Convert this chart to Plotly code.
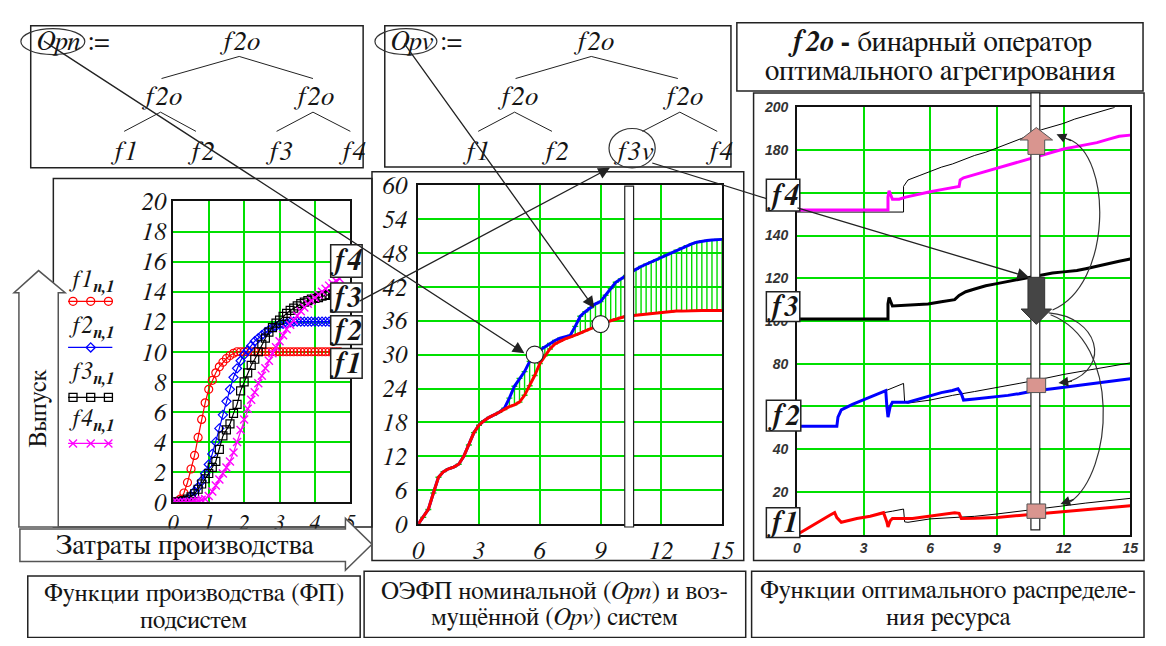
import plotly.graph_objects as go

# page geometry: the browser keeps its default 8px body margin, so the figure is
# sized to fill the 1166x646 window exactly and decorations are placed in window pixels.
WIN_W, WIN_H = 1166, 646
OFF = 8
FW, FH = WIN_W - 2 * OFF, WIN_H - 2 * OFF
SERIF = "FreeSerif, Liberation Serif, serif"
SANS = "Liberation Sans, Arial, DejaVu Sans, sans-serif"
GRID = "#00e000"
INK = "#151515"

# ---------------- data: production functions of subsystems (left) ----------------
fp_x = [0.0, 0.1, 0.2, 0.3, 0.4, 0.5, 0.6, 0.7, 0.8, 0.9,
        1.0, 1.1, 1.2, 1.3, 1.4, 1.5, 1.6, 1.7, 1.8, 1.9,
        2.0, 2.1, 2.2, 2.3, 2.4, 2.5, 2.6, 2.7, 2.8, 2.9,
        3.0, 3.1, 3.2, 3.3, 3.4, 3.5, 3.6, 3.7, 3.8, 3.9,
        4.0, 4.1, 4.2, 4.3, 4.4, 4.5, 4.6, 4.7]
f1_n = [0, 0.05, 0.2, 0.6, 1.3, 2.2, 3.1, 4.3, 5.5, 6.6,
        7.5, 8.1, 8.6, 9.0, 9.3, 9.55, 9.75, 9.9, 10.0, 10.0,
        10.0, 10.0, 10.0, 10.0, 10.0, 10.0, 10.0, 10.0, 10.0, 10.0,
        10.0, 10.0, 10.0, 10.0, 10.0, 10.0, 10.0, 10.0, 10.0, 10.0,
        10.0, 10.0, 10.0, 10.0, 10.0, 10.0, 10.0, 10.0]
f2_n = [0, 0, 0.05, 0.1, 0.2, 0.4, 0.7, 1.0, 1.4, 1.9,
        2.5, 3.2, 4.0, 4.9, 5.8, 6.7, 7.5, 8.3, 8.9, 9.4,
        9.8, 10.1, 10.4, 10.7, 10.9, 11.1, 11.3, 11.45, 11.6, 11.7,
        11.8, 11.85, 11.9, 11.95, 12.0, 12.0, 12.0, 12.0, 12.0, 12.0,
        12.0, 12.0, 12.0, 12.0, 12.0, 12.0, 12.0, 12.0]
f3_n = [0, 0, 0.05, 0.1, 0.2, 0.35, 0.55, 0.85, 1.2, 1.55,
        1.9, 2.3, 2.7, 3.5, 4.4, 4.8, 5.2, 5.9, 6.5, 7.4,
        8.0, 8.6, 9.1, 9.5, 10.0, 10.5, 10.9, 11.3, 11.6, 11.9,
        12.1, 12.35, 12.55, 12.75, 12.9, 13.05, 13.2, 13.3, 13.4, 13.5,
        13.55, 13.6, 13.7, 13.75, 13.8, 13.85, 13.9, 13.95]
f4_n = [0, 0, 0, 0, 0, 0.02, 0.05, 0.1, 0.15, 0.2,
        0.4, 0.7, 1.1, 1.5, 1.9, 2.3, 2.7, 3.3, 4.0, 4.8,
        5.5, 6.2, 6.8, 7.3, 7.9, 8.4, 8.9, 9.4, 9.9, 10.3,
        10.7, 11.1, 11.5, 11.8, 12.1, 12.4, 12.7, 12.95, 13.2, 13.4,
        13.6, 13.8, 14.0, 14.2, 14.4, 14.55, 14.7, 14.85]

# ---------------- data: OEFP nominal (Opn) and perturbed (Opv) (middle) ----------------
oe_x = [0, 0.25, 0.5, 0.75, 1, 1.25, 1.5, 1.75, 2, 2.25,
        2.5, 2.75, 3, 3.25, 3.5, 3.75, 4, 4.25, 4.5, 4.75,
        5, 5.25, 5.5, 5.75, 6, 6.25, 6.5, 6.75, 7, 7.25,
        7.5, 7.75, 8, 8.25, 8.5, 8.75, 9, 9.25, 9.5, 9.75,
        10, 10.25, 10.5, 10.75, 11, 11.25, 11.5, 11.75, 12, 12.25,
        12.5, 12.75, 13, 13.25, 13.5, 13.75, 14, 14.25, 14.5, 14.75, 15]
opn = [0, 1.2, 2.6, 5.5, 8.3, 9.3, 9.8, 10.1, 10.6, 12.0,
       14.0, 16.2, 17.5, 18.3, 18.9, 19.3, 19.8, 20.3, 20.8, 21.1,
       21.6, 22.8, 24.5, 26.3, 28.4, 29.8, 31.0, 31.9, 32.4, 32.8,
       33.1, 33.4, 33.8, 34.2, 34.6, 35.0, 35.4, 35.7, 36.0, 36.3,
       36.6, 36.8, 36.9, 37.0, 37.1, 37.2, 37.3, 37.4, 37.5, 37.55,
       37.6, 37.7, 37.7, 37.75, 37.8, 37.8, 37.8, 37.8, 37.8, 37.8, 37.8]
opv = [0, 1.2, 2.6, 5.5, 8.3, 9.3, 9.8, 10.1, 10.6, 12.0,
       14.0, 16.2, 17.5, 18.3, 18.9, 19.3, 19.8, 20.5, 22.3, 24.4,
       25.8, 27.0, 28.8, 30.0, 30.8, 31.4, 32.0, 32.5, 32.9, 33.1,
       33.4, 35.0, 36.8, 37.6, 38.3, 39.0, 39.4, 40.5, 41.7, 42.8,
       43.4, 44.0, 44.6, 45.1, 45.6, 46.0, 46.4, 46.8, 47.3, 47.7,
       48.1, 48.5, 48.9, 49.3, 49.6, 49.9, 50.1, 50.2, 50.3, 50.4, 50.4]

# ---------------- data: optimal resource distribution functions (right) ----------------
r4_x = [0, 4.1, 4.1, 4.15, 4.3, 4.6, 4.9, 5.5, 6.0, 6.5, 7.0, 7.3, 7.35, 7.5, 8.0, 8.5,
        9.0, 9.5, 10.0, 10.5, 11.0, 11.5, 12.0, 12.5, 13.0, 13.5, 14.0, 14.5, 15]
r4_y = [152, 152, 158, 161, 157, 157, 158, 159.5, 160.5, 161.5, 162.5, 163, 166, 167, 168.5, 170,
        171.5, 173, 174.5, 176, 177.5, 179, 180.5, 181.5, 182.5, 183.5, 185, 186.5, 187]
r4n_x = [0, 4.8, 4.8, 5.0, 5.5, 6.0, 6.5, 7.0, 7.5, 8.0, 8.5, 9.0, 9.5, 10.0, 10.5,
         11.0, 11.5, 12.0, 12.5, 13.0, 13.5, 14.0, 14.3]
r4n_y = [151, 151, 163, 166, 168, 170, 172, 173.5, 175.5, 177.5, 179, 181, 183, 185, 187,
         189.5, 191, 192.5, 194.5, 196, 197.5, 199, 200]
r3_x = [0, 4.1, 4.1, 4.15, 4.3, 5.0, 5.9, 6.5, 7.1, 7.3, 7.6, 8.0, 8.5, 9.0, 9.5, 10.0,
        10.35, 11.0, 11.5, 12.0, 12.6, 13.0, 13.5, 14.0, 14.5, 15]
r3_y = [101, 101, 108, 111, 107, 107.5, 108, 109, 110, 112, 113.7, 115, 116.5, 117.5, 118.5, 119.5,
        120.4, 121.5, 122.5, 123, 123.6, 124.5, 125.8, 126.8, 128, 129]
r2_x = [0, 1.8, 1.85, 2.0, 2.5, 3.0, 3.5, 4.0, 4.05, 4.1, 4.2, 4.3, 5.0, 5.5, 6.0, 6.5, 7.0,
        7.25, 7.4, 7.5, 8.0, 8.5, 9.0, 9.5, 10.0, 10.7, 11.5, 12.0, 12.6, 13.0, 13.5, 14.0, 14.5, 15]
r2_y = [50.8, 50.8, 55, 58.4, 61, 63.2, 65.3, 67.4, 60, 55, 60, 62, 62, 63.5, 65, 66.5, 67.5,
        68.3, 66, 63, 63.5, 64, 64.4, 65.2, 66, 67.4, 68.3, 69, 69.7, 70.2, 71, 71.8, 72.5, 73]
r2n_x = [0, 1.8, 1.85, 2.0, 2.5, 3.0, 3.5, 4.0, 4.5, 4.8, 4.85, 5.0, 6.0, 7.0, 8.0, 9.0,
         10.0, 11.0, 12.0, 13.0, 14.0, 15]
r2n_y = [50.8, 50.8, 55, 58.4, 61, 63.2, 65.3, 67.4, 69.5, 70.8, 62, 61.6, 63, 65.2, 67, 68.8,
         70.8, 72.8, 75, 76.8, 78.6, 80.4]
r1_x = [0, 0.5, 1.0, 1.5, 1.7, 1.8, 2.0, 2.7, 3.3, 3.9, 4.05, 4.1, 4.2, 4.3, 5.2, 6.0, 7.1,
        7.3, 7.4, 8.0, 9.0, 10.0, 11.1, 12.0, 13.0, 14.0, 15]
r1_y = [0, 3.2, 6.3, 9.2, 10.3, 8.0, 5.8, 7.6, 8.6, 10.3, 6, 3.6, 6.5, 7.6, 7.6, 8.6, 10.3,
        10.0, 7.6, 7.7, 8.1, 9.0, 9.9, 10.8, 11.7, 12.6, 13.5]
r1n_x = [0, 0.5, 1.0, 1.5, 1.7, 1.8, 2.0, 2.7, 3.3, 3.9, 4.3, 4.8, 4.85, 5.0, 6.0, 7.0, 8.0,
         9.0, 10.3, 11.0, 12.0, 13.0, 14.0, 15]
r1n_y = [0, 3.2, 6.3, 9.2, 10.3, 8.0, 5.8, 7.6, 8.6, 10.3, 11, 12, 6, 5.8, 7.4, 8.0, 8.6,
         9.7, 11.2, 12.2, 13.5, 14.8, 16.0, 17]

left_xticks = [0, 1, 2, 3, 4, 5]
left_yticks = [0, 2, 4, 6, 8, 10, 12, 14, 16, 18, 20]
mid_xticks = [0, 3, 6, 9, 12, 15]
mid_yticks = [0, 6, 12, 18, 24, 30, 36, 42, 48, 54, 60]
right_xticks = [0, 3, 6, 9, 12, 15]
right_yticks = [0, 20, 40, 60, 80, 100, 120, 140, 160, 180, 200]
right_ytext = ["", "20", "40", "", "80", "100", "120", "140", "", "180", "200"]


def px(x):
    return (x - OFF) / FW


def py(y):
    return 1 - (y - OFF) / FH


fig = go.Figure()

# ---- left chart traces ----
fig.add_trace(go.Scatter(x=fp_x, y=f1_n, mode="lines+markers", xaxis="x", yaxis="y",
                         line=dict(color="#ff0000", width=1.2),
                         marker=dict(symbol="circle-open", size=8, color="#ff0000", line=dict(width=1.2))))
fig.add_trace(go.Scatter(x=fp_x, y=f2_n, mode="lines+markers", xaxis="x", yaxis="y",
                         line=dict(color="#0000ff", width=1.2),
                         marker=dict(symbol="diamond-open", size=7, color="#0000ff", line=dict(width=1.2))))
fig.add_trace(go.Scatter(x=fp_x, y=f3_n, mode="lines+markers", xaxis="x", yaxis="y",
                         line=dict(color="#000000", width=1.2),
                         marker=dict(symbol="square-open", size=8, color="#000000", line=dict(width=1.2))))
fig.add_trace(go.Scatter(x=fp_x, y=f4_n, mode="lines+markers", xaxis="x", yaxis="y",
                         line=dict(color="#ff00ff", width=1.2),
                         marker=dict(symbol="x-thin", size=8, color="#ff00ff",
                                     line=dict(color="#ff00ff", width=1.4))))

# ---- middle chart traces ----
gap = [b - a for a, b in zip(opn, opv)]
fig.add_trace(go.Scatter(x=oe_x, y=opn, mode="markers", xaxis="x2", yaxis="y2",
                         marker=dict(size=1, color="rgba(0,0,0,0)"),
                         error_y=dict(type="data", symmetric=False, array=gap,
                                      arrayminus=[0] * len(gap), color="#00dd00",
                                      thickness=1.4, width=3)))
fig.add_trace(go.Scatter(x=oe_x, y=opv, mode="lines", xaxis="x2", yaxis="y2",
                         line=dict(color="#0000ff", width=3)))
fig.add_trace(go.Scatter(x=oe_x, y=opn, mode="lines", xaxis="x2", yaxis="y2",
                         line=dict(color="#ff0000", width=3)))

# ---- right chart traces ----
for xs, ys, col, w in [(r4n_x, r4n_y, "#000000", 1), (r4_x, r4_y, "#ff00ff", 3),
                       (r3_x, r3_y, "#000000", 3),
                       (r2n_x, r2n_y, "#000000", 1), (r2_x, r2_y, "#0000ff", 3),
                       (r1n_x, r1n_y, "#000000", 1), (r1_x, r1_y, "#ff0000", 3)]:
    fig.add_trace(go.Scatter(x=xs, y=ys, mode="lines", xaxis="x3", yaxis="y3",
                             line=dict(color=col, width=w)))

# ---- legend samples (own hidden pixel-space axis) ----
leg_specs = [(302, "#ff0000", "circle-open", [68, 86, 104], 8),
             (350, "#0000ff", "diamond-open", [86], 7),
             (402, "#000000", "square-open", [68, 86, 104], 8),
             (450, "#ff00ff", "x-thin", [68, 86, 104], 8)]
for ly, col, sym, mx, ms in leg_specs:
    fig.add_trace(go.Scatter(x=[63, 108], y=[ly, ly], mode="lines", xaxis="x4", yaxis="y4",
                             line=dict(color=col, width=1.2)))
    fig.add_trace(go.Scatter(x=mx, y=[ly] * len(mx), mode="markers", xaxis="x4", yaxis="y4",
                             marker=dict(symbol=sym, size=ms, color=col,
                                         line=dict(color=col, width=1.3))))

# ---------------- decorations ----------------
shapes = []
annots = []


def rect(x0, y0, x1, y1, lw=1.5, color="#222", fill="rgba(0,0,0,0)"):
    shapes.append(dict(type="rect", xref="paper", yref="paper", x0=px(x0), x1=px(x1),
                       y0=py(y1), y1=py(y0), line=dict(color=color, width=lw),
                       fillcolor=fill, layer="above"))


def poly(pts, lw=1.0, color="#222", fill=None, close=False):
    d = "M " + " L ".join(f"{px(x):.5f},{py(y):.5f}" for x, y in pts)
    if close:
        d += " Z"
    s = dict(type="path", xref="paper", yref="paper", path=d,
             line=dict(color=color, width=lw), layer="above")
    if fill:
        s["fillcolor"] = fill
    shapes.append(s)


def curve(p0, c1, c2, p1, lw=1.2, color="#333"):
    pts = [p0, c1, c2, p1]
    c = [f"{px(x):.5f},{py(y):.5f}" for x, y in pts]
    shapes.append(dict(type="path", xref="paper", yref="paper",
                       path=f"M {c[0]} C {c[1]} {c[2]} {c[3]}",
                       line=dict(color=color, width=lw), layer="above"))


def ellipse(x0, y0, x1, y1):
    shapes.append(dict(type="circle", xref="paper", yref="paper", x0=px(x0), x1=px(x1),
                       y0=py(y1), y1=py(y0), line=dict(color="#333", width=1.2), layer="above"))


def arrow(tail, tip, size=1.8, width=1.3):
    annots.append(dict(x=px(tip[0]), y=py(tip[1]), xref="paper", yref="paper",
                       ax=tail[0] - tip[0], ay=tail[1] - tip[1], axref="pixel", ayref="pixel",
                       text="", showarrow=True, arrowhead=2, arrowsize=size,
                       arrowwidth=width, arrowcolor="#222"))


def text(t, x, y, size, anchor="center", angle=0, family=SERIF):
    annots.append(dict(x=px(x), y=py(y), xref="paper", yref="paper", text=t, showarrow=False,
                       xanchor=anchor, yanchor="middle", textangle=angle,
                       font=dict(family=family, size=size, color=INK)))


# outer boxes
rect(25, 15, 363, 163)
rect(385, 15, 737, 162)
rect(743, 12, 1156, 83)
rect(48, 174, 372, 537)
rect(372, 167, 750, 572)
rect(760, 85, 1157, 572)
rect(22, 588, 360, 652)
rect(364, 583, 752, 652)
rect(758, 583, 1157, 652)

# trees
for pts in [[(158, 70), (237, 47), (312, 70)], [(120, 125), (157, 105), (193, 125)],
            [(275, 125), (312, 105), (350, 125)],
            [(518, 70), (595, 47), (683, 70)], [(480, 125), (517, 105), (555, 125)],
            [(647, 125), (685, 105), (723, 125)]]:
    poly(pts, lw=1.0)
TS = 27
text("<i>Opn</i> :=", 29, 32, TS, anchor="left")
text("<i>f2o</i>", 237, 31, TS)
text("<i>f2o</i>", 158, 89, TS)
text("<i>f2o</i>", 313, 89, TS)
for t, x in [("f1", 120), ("f2", 198), ("f3", 277), ("f4", 352)]:
    text(f"<i>{t}</i>", x, 146, TS)
text("<i>Opv</i> :=", 389, 32, TS, anchor="left")
text("<i>f2o</i>", 597, 31, TS)
text("<i>f2o</i>", 520, 89, TS)
text("<i>f2o</i>", 688, 89, TS)
for t, x in [("f1", 478), ("f2", 558), ("f3v", 638), ("f4", 725)]:
    text(f"<i>{t}</i>", x, 146, TS)
ellipse(15, 18, 80, 45)
ellipse(375, 18, 438, 45)
ellipse(613, 122, 660, 163)

# title box
text("<b><i>f2o</i> -</b> бинарный оператор", 950, 32, 29)
text("оптимального агрегирования", 950, 63, 29)

# big block arrows
poly([(13, 537), (13, 293), (8, 293), (33, 270), (60, 293), (53, 293), (53, 537)],
     lw=1.5, color="#555", fill="white", close=True)
poly([(14, 539), (345, 539), (345, 528), (372, 555), (345, 582), (345, 573), (14, 573)],
     lw=1.5, color="#555", fill="white", close=True)
text("Выпуск", 33, 413, 25, angle=-90)
text("Затраты производства", 182, 557, 28)

# legend labels
for i, ly in enumerate([282, 330, 378, 427]):
    text(f"<i>f{i + 1}</i><sub><b><i>n,1</i></b></sub>", 62, ly, 24, anchor="left")

# middle bar and circles
rect(629, 182, 638, 537, lw=1.2, color="#222", fill="white")
for xi, series in [(oe_x.index(5.75), opv), (oe_x.index(9), opn)]:
    shapes.append(dict(type="circle", xref="x2", yref="y2", xsizemode="pixel", ysizemode="pixel",
                       xanchor=oe_x[xi], yanchor=series[xi], x0=-8.5, x1=8.5, y0=-8.5, y1=8.5,
                       fillcolor="white", line=dict(color="#222", width=1.2), layer="above"))

# right bar and highlighted points
rect(1042, 85, 1051, 540, lw=1.2, color="#222", fill="white")
poly([(1039, 277), (1056, 277), (1056, 310), (1063, 310), (1047.5, 326), (1032, 310), (1039, 310)],
     lw=1, color="#333", fill="#454545", close=True)
poly([(1047.5, 121), (1064, 134), (1056, 134), (1056, 149), (1039, 149), (1039, 134), (1031, 134)],
     lw=1, color="#555", fill="#d9958f", close=True)
rect(1038, 382, 1057, 397, lw=1, color="#555", fill="#d9958f")
rect(1038, 513, 1057, 528, lw=1, color="#555", fill="#d9958f")

# f-label boxes
for lab, (x0, y0, x1, y1) in [("f4", (330, 243, 362, 277)), ("f3", (330, 283, 362, 313)),
                              ("f2", (330, 317, 362, 347)), ("f1", (330, 351, 362, 382)),
                              ("f4", (773, 175, 807, 208)), ("f3", (773, 292, 807, 323)),
                              ("f2", (773, 405, 808, 437)), ("f1", (773, 517, 807, 548))]:
    rect(x0, y0, x1, y1, lw=1.5, color="#222", fill="white")
    text(f"<b><i>{lab}</i></b>", (x0 + x1) / 2, (y0 + y1) / 2 + 1, 29)

# connecting arrows
arrow((45, 43), (527, 356))
arrow((407, 43), (598, 309))
arrow((362, 297), (614, 163))
poly([(657, 158), (773, 195)], lw=1.2)
arrow((807, 207), (1040, 277))
curve((1064, 311), (1125, 285), (1125, 150), (1080, 133))
arrow((1084, 135), (1068, 128), size=1.5)
curve((1060, 314), (1110, 318), (1125, 370), (1080, 386))
arrow((1085, 385), (1070, 387), size=1.5)
curve((1062, 316), (1135, 345), (1125, 480), (1082, 511))
arrow((1087, 508), (1072, 513), size=1.5)

# captions
CS = 25
text("Функции производства (ФП)", 191, 607, CS)
text("подсистем", 191, 634, CS)
text("ОЭФП номинальной (<i>Opn</i>) и воз-", 558, 604, CS)
text("мущённой (<i>Opv</i>) систем", 558, 632, CS)
text("Функции оптимального распределе-", 958, 604, CS)
text("ния ресурса", 958, 632, CS)

tick_serif = dict(family=SERIF, size=25, color=INK, style="italic")
tick_serif_x = dict(family=SERIF, size=22, color=INK, style="italic")
tick_sans = dict(family=SANS, size=14, color="#333", style="italic", weight="bold")
axis_common = dict(showgrid=True, gridcolor=GRID, gridwidth=2, zeroline=False,
                   showline=True, linecolor="#111", linewidth=1.5, mirror=True, ticks="")

fig.update_layout(
    width=FW, height=FH, margin=dict(l=0, r=0, t=0, b=0), autosize=False,
    paper_bgcolor="white", plot_bgcolor="white", showlegend=False,
    xaxis=dict(domain=[px(170), px(350)], range=[0, 5], tickvals=left_xticks, anchor="y",
               tickfont=tick_serif_x, ticklabelstandoff=0, **axis_common),
    yaxis=dict(domain=[py(511), py(198)], range=[0, 20], tickvals=left_yticks, anchor="x",
               tickfont=tick_serif, **axis_common),
    xaxis2=dict(domain=[px(419), px(728)], range=[0, 15], tickvals=mid_xticks, anchor="y2",
                tickfont=tick_serif, ticklabelstandoff=3, **axis_common),
    yaxis2=dict(domain=[py(534), py(181)], range=[0, 60], tickvals=mid_yticks, anchor="x2",
                tickfont=tick_serif, ticklabelstandoff=4, **axis_common),
    xaxis3=dict(domain=[px(804), px(1143)], range=[0, 15], tickvals=right_xticks, anchor="y3",
                tickfont=tick_sans, **axis_common),
    yaxis3=dict(domain=[py(545), py(100)], range=[0, 200], tickvals=right_yticks,
                ticktext=right_ytext, anchor="x3",
                tickfont=tick_sans, ticklabelstandoff=4, **axis_common),
    xaxis4=dict(domain=[px(55), px(120)], range=[55, 120], visible=False, anchor="y4"),
    yaxis4=dict(domain=[py(460), py(270)], range=[460, 270], visible=False, anchor="x4"),
    shapes=shapes, annotations=annots,
)

fig.write_html("out.html", config={"displayModeBar": False})
